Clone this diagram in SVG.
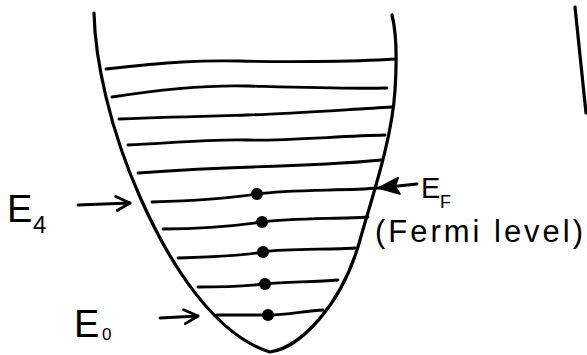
<svg xmlns="http://www.w3.org/2000/svg" width="587" height="355" viewBox="0 0 587 355">
  <style>
    .ink { fill: none; stroke: #000; stroke-linecap: round; stroke-linejoin: round; }
    .well { stroke-width: 3.2; }
    .level { stroke-width: 2.8; }
    .arrow { stroke-width: 2.8; }
    .dot { fill: #000; }
    .lbl { font-family: "Liberation Sans", Arial, sans-serif; fill: #000; }
  </style>
  <defs>
    <marker id="open" markerUnits="userSpaceOnUse" markerWidth="20" markerHeight="20" refX="16" refY="8" orient="auto" viewBox="0 0 20 16">
      <path d="M2,1 L16,8 L3,15" fill="none" stroke="#000" stroke-width="2.8" stroke-linecap="round" stroke-linejoin="round"/>
    </marker>
    <marker id="solid" markerUnits="userSpaceOnUse" markerWidth="24" markerHeight="22" refX="21" refY="10" orient="auto" viewBox="0 0 24 20">
      <path d="M1,2 L21,10 L1,18 L5,10 Z" fill="#000" stroke="#000" stroke-width="2" stroke-linejoin="round"/>
    </marker>
  </defs>

  <g id="well">
    <path class="ink well" d="M94,13 C95,60 110,130 140,197 C170,265 215,335 270,352 C300,348 342,305 360,240 C372,197 392,140 395,90 C397,60 397,35 392,15"/>
  </g>

  <g id="side-line">
    <path class="ink well" d="M575,7 L586,113"/>
  </g>

  <g id="levels">
    <path class="ink level" d="M106,69 C170,62 200,60 240,61 S350,62 395,59"/>
    <path class="ink level" d="M112,97 C170,88 210,85 247,86 S340,89 387,88"/>
    <path class="ink level" d="M119,119 C170,117 210,116 247,115 S340,110 392,107"/>
    <path class="ink level" d="M128,145 C170,143 210,139 247,140 S340,136 385,135"/>
    <path class="ink level" d="M138,173 C180,170 220,168 253,167 S340,164 382,160"/>
    <path class="ink level" d="M152,202 C190,201 225,199 257,194 S345,191 378,188"/>
    <path class="ink level" d="M163,229 C200,229 235,226 262,222 S340,219 368,217"/>
    <path class="ink level" d="M178,258 C210,257 240,256 263,252 S330,250 355,248"/>
    <path class="ink level" d="M198,287 C225,287 245,286 265,284 S315,282 338,280"/>
    <path class="ink level" d="M217,315 C235,315 250,315 268,315 S305,311 323,310"/>
  </g>

  <g id="electrons">
    <circle class="dot" cx="257" cy="194" r="6"/>
    <circle class="dot" cx="262" cy="222" r="6"/>
    <circle class="dot" cx="263" cy="252" r="6"/>
    <circle class="dot" cx="265" cy="284" r="6"/>
    <circle class="dot" cx="268" cy="315" r="6"/>
  </g>

  <g id="label-E4">
    <text class="lbl" x="7" y="222" font-size="38">E</text>
    <text class="lbl" x="33" y="233" font-size="24">4</text>
  </g>

  <g id="label-E0">
    <text class="lbl" x="74" y="337" font-size="38">E</text>
    <text class="lbl" x="102" y="340" font-size="17">0</text>
  </g>

  <g id="label-EF">
    <text class="lbl" x="421" y="198" font-size="29">E</text>
    <text class="lbl" x="440" y="208" font-size="18">F</text>
    <text class="lbl" x="375" y="242" font-size="31" textLength="208" lengthAdjust="spacing">(Fermi level)</text>
  </g>

  <g id="connectors">
    <path class="ink arrow" d="M78,205 L130,203" marker-end="url(#open)"/>
    <path class="ink arrow" d="M160,318 L198,316" marker-end="url(#open)"/>
    <path class="ink arrow" d="M417,184 L379,188" marker-end="url(#solid)"/>
  </g>
</svg>
